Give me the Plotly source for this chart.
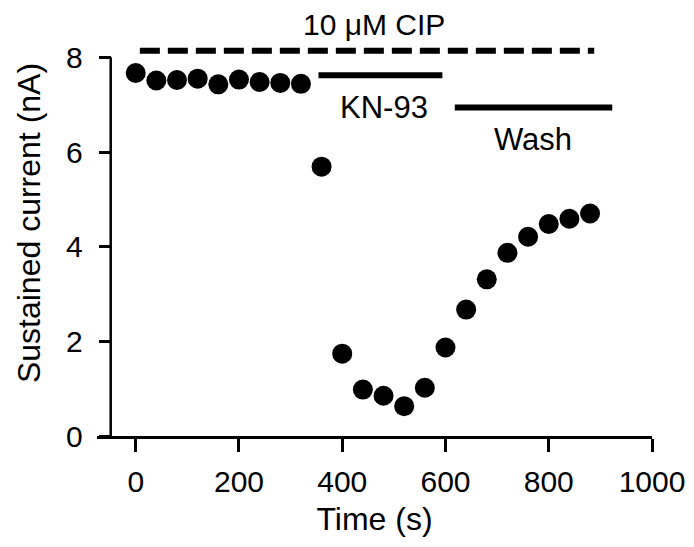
import plotly.graph_objects as go

# Data
time_s = [0, 40, 80, 120, 160, 200, 240, 280, 320, 360, 400, 440, 480, 520,
          560, 600, 640, 680, 720, 760, 800, 840, 880]
current_nA = [7.67, 7.51, 7.52, 7.55, 7.43, 7.53, 7.48, 7.46, 7.44, 5.69,
              1.74, 0.98, 0.85, 0.63, 1.02, 1.87, 2.67, 3.31, 3.87, 4.21,
              4.48, 4.59, 4.70]

# Treatment periods (start, end, level)
cip_period = [8, 888, 8.14]
kn93_period = [354, 594, 7.62]
wash_period = [618, 923, 6.94]

x_ticks = [0, 200, 400, 600, 800, 1000]
y_ticks = [0, 2, 4, 6, 8]

FONT = "Liberation Sans, Arial, sans-serif"
FS_TICK = 30
FS_TITLE = 32
FS_ANN = 31

fig = go.Figure()

fig.add_trace(go.Scatter(
    x=[cip_period[0], cip_period[1]], y=[cip_period[2], cip_period[2]],
    mode="lines", line=dict(color="black", width=6, dash="20px,8px"),
    showlegend=False, hoverinfo="skip"))
fig.add_trace(go.Scatter(
    x=[kn93_period[0], kn93_period[1]], y=[kn93_period[2], kn93_period[2]],
    mode="lines", line=dict(color="black", width=6),
    showlegend=False, hoverinfo="skip"))
fig.add_trace(go.Scatter(
    x=[wash_period[0], wash_period[1]], y=[wash_period[2], wash_period[2]],
    mode="lines", line=dict(color="black", width=6),
    showlegend=False, hoverinfo="skip"))

fig.add_trace(go.Scatter(
    x=time_s, y=current_nA, mode="markers",
    marker=dict(color="black", size=20, line=dict(width=0)),
    showlegend=False))

Y_POS = 0.0247

fig.update_layout(
    width=694, height=547,
    margin=dict(l=89, r=50, t=2, b=119, autoexpand=False),
    paper_bgcolor="white", plot_bgcolor="white",
    font=dict(family=FONT, size=FS_TICK, color="black"),
    xaxis=dict(
        range=[-75, 1000], tickvals=x_ticks, ticks="outside", ticklen=13,
        tickwidth=2.5, tickcolor="black", showline=True, linewidth=2.5,
        linecolor="black", showgrid=False, zeroline=False,
        ticklabelstandoff=4, automargin=False,
        title=dict(text="Time (s)", standoff=11, font=dict(size=FS_TITLE)),
        tickfont=dict(size=FS_TICK),
    ),
    yaxis=dict(
        range=[0, 9], tickvals=y_ticks, ticks="outside", ticklen=12,
        tickwidth=2.5, tickcolor="black", showline=False,
        showgrid=False, zeroline=False, anchor="free", position=Y_POS,
        ticklabelstandoff=10, automargin=False,
        title=dict(text="Sustained current (nA)", standoff=14, font=dict(size=FS_TITLE)),
        tickfont=dict(size=FS_TICK),
    ),
    shapes=[dict(type="line", xref="paper", yref="y", x0=Y_POS, x1=Y_POS,
                 y0=0, y1=8, line=dict(color="black", width=2.5))],
    annotations=[
        dict(text="10 μM CIP", x=461, y=8.69, xref="x", yref="y",
             showarrow=False, font=dict(size=30), xanchor="center", yanchor="middle"),
        dict(text="KN-93", x=480, y=6.93, xref="x", yref="y",
             showarrow=False, font=dict(size=FS_ANN), xanchor="center", yanchor="middle"),
        dict(text="Wash", x=769, y=6.27, xref="x", yref="y",
             showarrow=False, font=dict(size=FS_ANN), xanchor="center", yanchor="middle"),
    ],
)

fig.write_html("out.html")
